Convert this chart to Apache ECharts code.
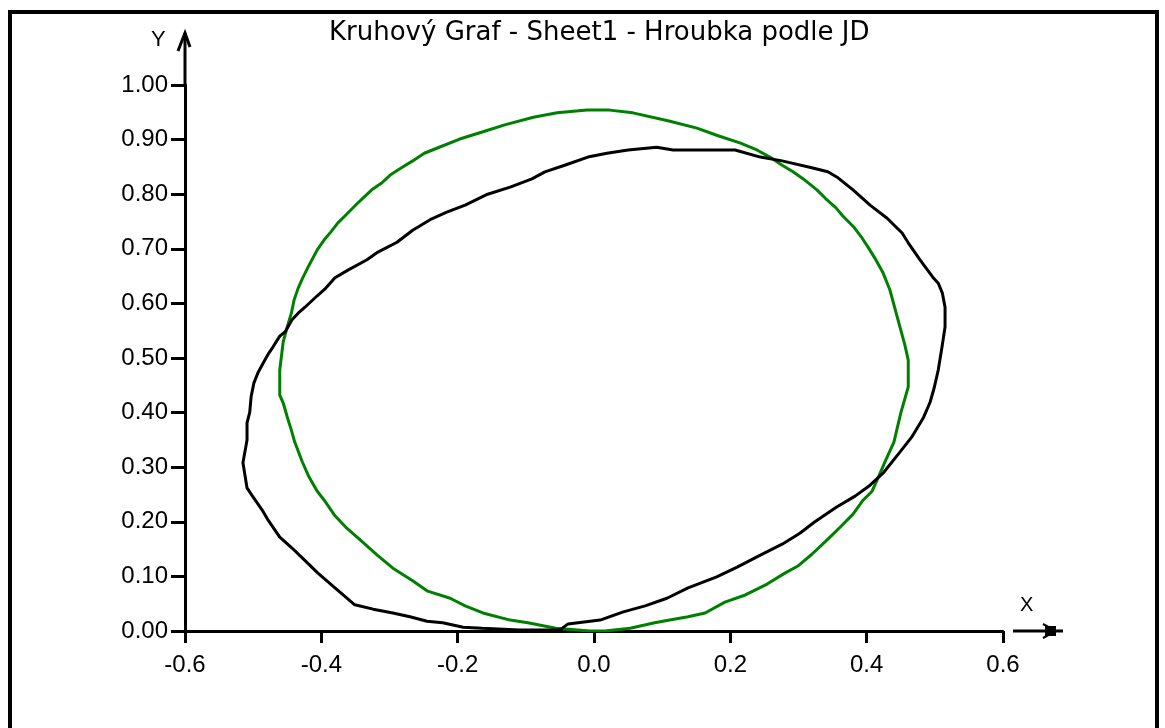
<!DOCTYPE html>
<html>
<head>
<meta charset="utf-8">
<script src="https://cdn.jsdelivr.net/npm/echarts@6/dist/echarts.min.js"></script>
<style>
  html, body { margin: 0; padding: 0; background: #fff; }
  #chart { width: 1165px; height: 728px; }
</style>
</head>
<body>
<div id="chart"></div>
<script>
// Kruhový graf - dvě uzavřené křivky (naměřená černá, kruh zelená)
const titleText = 'Kruhový Graf - Sheet1 - Hroubka podle JD';

const xTicks = [-0.6, -0.4, -0.2, 0.0, 0.2, 0.4, 0.6];
const yTicks = [0.0, 0.1, 0.2, 0.3, 0.4, 0.5, 0.6, 0.7, 0.8, 0.9, 1.0];

// černá křivka
const blackX = [-0.050, -0.109, -0.164, -0.192, -0.222, -0.245, -0.270, -0.295, -0.324, -0.351,
  -0.368, -0.380, -0.405, -0.428, -0.443, -0.461, -0.478, -0.487, -0.502, -0.509,
  -0.515, -0.509, -0.509, -0.505, -0.503, -0.499, -0.493, -0.483, -0.477, -0.471,
  -0.461, -0.453, -0.443, -0.434, -0.424, -0.406, -0.395, -0.380, -0.361, -0.333,
  -0.317, -0.289, -0.266, -0.238, -0.216, -0.189, -0.156, -0.123, -0.091, -0.072,
  -0.043, -0.009, 0.019, 0.050, 0.092, 0.116, 0.207, 0.244, 0.276, 0.321,
  0.343, 0.358, 0.380, 0.405, 0.430, 0.452, 0.461, 0.478, 0.497, 0.505,
  0.511, 0.515, 0.515, 0.511, 0.505, 0.499, 0.493, 0.483, 0.466, 0.449,
  0.424, 0.405, 0.383, 0.356, 0.324, 0.302, 0.276, 0.244, 0.210, 0.180,
  0.138, 0.107, 0.075, 0.043, 0.009, -0.038, -0.050];
const blackY = [0.002, 0.002, 0.005, 0.007, 0.015, 0.018, 0.026, 0.033, 0.040, 0.048,
  0.066, 0.079, 0.106, 0.134, 0.152, 0.172, 0.203, 0.222, 0.249, 0.262,
  0.308, 0.350, 0.381, 0.401, 0.429, 0.454, 0.473, 0.496, 0.509, 0.520,
  0.540, 0.548, 0.570, 0.582, 0.593, 0.614, 0.626, 0.647, 0.661, 0.680,
  0.694, 0.712, 0.734, 0.755, 0.767, 0.780, 0.800, 0.813, 0.828, 0.841,
  0.853, 0.868, 0.875, 0.881, 0.886, 0.881, 0.881, 0.868, 0.861, 0.848,
  0.841, 0.830, 0.808, 0.780, 0.756, 0.729, 0.711, 0.680, 0.648, 0.637,
  0.619, 0.593, 0.557, 0.524, 0.478, 0.445, 0.419, 0.390, 0.355, 0.328,
  0.289, 0.267, 0.247, 0.227, 0.200, 0.179, 0.159, 0.139, 0.117, 0.099,
  0.079, 0.060, 0.046, 0.035, 0.020, 0.013, 0.002];

// zelená křivka
const greenX = [-0.006, -0.056, -0.097, -0.123, -0.163, -0.189, -0.211, -0.244, -0.266, -0.295,
  -0.318, -0.343, -0.364, -0.380, -0.396, -0.406, -0.418, -0.428, -0.439, -0.444,
  -0.450, -0.456, -0.461, -0.461, -0.456, -0.450, -0.444, -0.440, -0.434, -0.428,
  -0.418, -0.406, -0.396, -0.386, -0.376, -0.364, -0.348, -0.337, -0.326, -0.311,
  -0.299, -0.283, -0.266, -0.249, -0.227, -0.197, -0.164, -0.131, -0.089, -0.054,
  -0.010, 0.023, 0.057, 0.110, 0.151, 0.182, 0.214, 0.239, 0.258, 0.276,
  0.292, 0.307, 0.327, 0.339, 0.355, 0.365, 0.381, 0.392, 0.402, 0.412,
  0.424, 0.434, 0.444, 0.456, 0.461, 0.461, 0.450, 0.440, 0.428, 0.418,
  0.408, 0.395, 0.380, 0.361, 0.342, 0.320, 0.299, 0.280, 0.254, 0.222,
  0.192, 0.163, 0.138, 0.111, 0.089, 0.053, 0.016, -0.006];
const greenY = [0.000, 0.005, 0.015, 0.020, 0.033, 0.046, 0.060, 0.073, 0.092, 0.115,
  0.139, 0.167, 0.190, 0.211, 0.240, 0.256, 0.282, 0.310, 0.346, 0.368,
  0.392, 0.418, 0.432, 0.478, 0.529, 0.557, 0.582, 0.606, 0.628, 0.645,
  0.670, 0.698, 0.716, 0.731, 0.747, 0.762, 0.782, 0.795, 0.808, 0.821,
  0.835, 0.848, 0.861, 0.875, 0.886, 0.901, 0.914, 0.927, 0.941, 0.949,
  0.954, 0.954, 0.949, 0.934, 0.921, 0.907, 0.894, 0.881, 0.868, 0.853,
  0.841, 0.828, 0.808, 0.793, 0.775, 0.760, 0.740, 0.722, 0.703, 0.683,
  0.656, 0.625, 0.579, 0.524, 0.496, 0.447, 0.399, 0.346, 0.313, 0.284,
  0.256, 0.240, 0.214, 0.190, 0.167, 0.141, 0.119, 0.106, 0.086, 0.066,
  0.053, 0.033, 0.026, 0.020, 0.015, 0.005, 0.000, 0.000];

const pairs = (xs, ys) => xs.map((x, i) => [x, ys[i]]);

const font = '"Liberation Sans", Arial, sans-serif';
const chart = echarts.init(document.getElementById('chart'));

const option = {
  animation: false,
  backgroundColor: '#fff',
  title: {
    text: titleText,
    left: 324,
    top: 15,
    textStyle: { fontFamily: '"DejaVu Sans", sans-serif', fontSize: 26, fontWeight: 'normal', color: '#000' }
  },
  grid: { left: 185, right: 162, top: 85, bottom: 97 },
  xAxis: {
    type: 'value',
    min: xTicks[0],
    max: xTicks[xTicks.length - 1],
    interval: 0.2,
    axisLine: { onZero: false, lineStyle: { color: '#000', width: 3 } },
    axisTick: { length: 12, lineStyle: { color: '#000', width: 3 } },
    axisLabel: {
      margin: 22, color: '#000', fontFamily: font, fontSize: 24,
      formatter: v => v.toFixed(1)
    },
    splitLine: { show: false }
  },
  yAxis: {
    type: 'value',
    min: yTicks[0],
    max: yTicks[yTicks.length - 1],
    interval: 0.1,
    axisLine: { onZero: false, lineStyle: { color: '#000', width: 3 } },
    axisTick: { length: 14, lineStyle: { color: '#000', width: 3 } },
    axisLabel: {
      margin: 17, color: '#000', fontFamily: font, fontSize: 24,
      formatter: v => v.toFixed(2)
    },
    splitLine: { show: false }
  },
  series: [
    {
      name: 'kruh',
      type: 'line',
      data: pairs(greenX, greenY),
      showSymbol: false,
      lineStyle: { color: '#008000', width: 3 },
      z: 2
    },
    {
      name: 'hroubka',
      type: 'line',
      data: pairs(blackX, blackY),
      showSymbol: false,
      lineStyle: { color: '#000', width: 3 },
      z: 3
    }
  ]
};
chart.setOption(option);

// šipky os, popisky X / Y a rámeček
const axisTop = chart.convertToPixel({ gridIndex: 0 }, [xTicks[0], yTicks[yTicks.length - 1]]);
const axisEnd = chart.convertToPixel({ gridIndex: 0 }, [xTicks[xTicks.length - 1], yTicks[0]]);
const ax = axisTop[0], ay = axisTop[1];
const ex = axisEnd[0], ey = axisEnd[1];
chart.setOption({
  graphic: [
    { type: 'rect', shape: { x: 10, y: 12, width: 1147, height: 740 },
      style: { fill: 'none', stroke: '#000', lineWidth: 4 } },
    { type: 'line', shape: { x1: ax, y1: ay, x2: ax, y2: ay - 52 },
      style: { stroke: '#000', lineWidth: 3 } },
    { type: 'polyline', shape: { points: [[ax - 7, ay - 34], [ax, ay - 52], [ax + 5, ay - 38]] },
      style: { stroke: '#000', lineWidth: 3, fill: 'none' } },
    { type: 'text', x: ax - 34, y: ay - 56,
      style: { text: 'Y', fill: '#000', font: '22px ' + font } },
    { type: 'line', shape: { x1: ex + 10, y1: ey, x2: ex + 60, y2: ey },
      style: { stroke: '#000', lineWidth: 3 } },
    { type: 'rect', shape: { x: ex + 42, y: ey - 5, width: 11, height: 10 },
      style: { fill: '#000' } },
    { type: 'polyline', shape: { points: [[ex + 40, ey - 7], [ex + 53, ey], [ex + 40, ey + 7]] },
      style: { stroke: '#000', lineWidth: 2, fill: 'none' } },
    { type: 'text', x: ex + 17, y: ey - 36,
      style: { text: 'X', fill: '#000', font: '20px ' + font } }
  ]
});
</script>
</body>
</html>
